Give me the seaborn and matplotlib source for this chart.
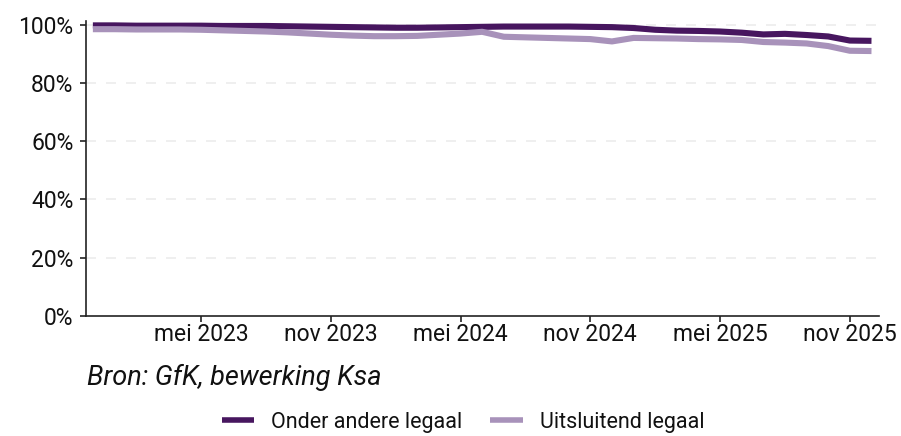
import numpy as np
import pandas as pd
import matplotlib
matplotlib.use('Agg')
import matplotlib.pyplot as plt
import seaborn as sns

maanden = ['dec 2022', 'jan 2023', 'feb 2023', 'mrt 2023', 'apr 2023', 'mei 2023',
           'jun 2023', 'jul 2023', 'aug 2023', 'sep 2023', 'okt 2023', 'nov 2023',
           'dec 2023', 'jan 2024', 'feb 2024', 'mrt 2024', 'apr 2024', 'mei 2024',
           'jun 2024', 'jul 2024', 'aug 2024', 'sep 2024', 'okt 2024', 'nov 2024',
           'dec 2024', 'jan 2025', 'feb 2025', 'mrt 2025', 'apr 2025', 'mei 2025',
           'jun 2025', 'jul 2025', 'aug 2025', 'sep 2025', 'okt 2025', 'nov 2025',
           'dec 2025']

onder_andere = [99.7, 99.7, 99.6, 99.6, 99.6, 99.6, 99.5, 99.5, 99.5, 99.4, 99.3, 99.2,
                99.1, 99.0, 98.9, 98.9, 99.0, 99.1, 99.2, 99.3, 99.3, 99.3, 99.3, 99.2,
                99.1, 98.8, 98.2, 97.9, 97.8, 97.6, 97.2, 96.6, 96.8, 96.4, 95.9, 94.5,
                94.4]

uitsluitend = [98.4, 98.4, 98.3, 98.3, 98.3, 98.2, 98.0, 97.8, 97.6, 97.3, 96.9, 96.5,
               96.2, 96.0, 96.0, 96.1, 96.5, 96.9, 97.5, 95.8, 95.6, 95.4, 95.2, 95.0,
               94.2, 95.4, 95.3, 95.2, 95.0, 94.9, 94.7, 94.0, 93.8, 93.5, 92.6, 91.0,
               90.9]

reeksen = ['Onder andere legaal', 'Uitsluitend legaal']
kleuren = ['#47165f', '#a892ba']
tick_maanden = ['mei 2023', 'nov 2023', 'mei 2024', 'nov 2024', 'mei 2025', 'nov 2025']

sns.set_style('white')
plt.rcParams['font.family'] = ['Roboto', 'DejaVu Sans']

df = pd.DataFrame({
    'maand': list(range(len(maanden))) * 2,
    'aandeel': np.array(onder_andere + uitsluitend) / 100,
    'reeks': [reeksen[0]] * len(maanden) + [reeksen[1]] * len(maanden),
})

fig = plt.figure(figsize=(9.01, 4.36), dpi=100)
ax = fig.add_axes([0.0954, 0.2752, 0.880, 0.6766])

sns.lineplot(data=df, x='maand', y='aandeel', hue='reeks', hue_order=reeksen,
             palette=kleuren, linewidth=4.4, legend=False, ax=ax, clip_on=False)
for ln in ax.lines:
    ln.set_solid_capstyle('butt')
    ln.set_solid_joinstyle('round')

ax.set_xlim(-0.32, len(maanden) - 1 + 0.34)
ax.set_ylim(0, 1.012)
ax.set_yticks([0, 0.2, 0.4, 0.6, 0.8, 1.0])
ax.set_yticklabels(['0%', '20%', '40%', '60%', '80%', '100%'], fontsize=16.5)
ax.set_xticks([maanden.index(m) for m in tick_maanden])
ax.set_xticklabels(tick_maanden, fontsize=16.5)
ax.set_xlabel('')
ax.set_ylabel('')

for v in [0.2, 0.4, 0.6, 0.8, 1.0]:
    ax.axhline(v, color='#ececec', lw=1.2, ls=(0, (6, 6)), zorder=0)

ax.spines['top'].set_visible(False)
ax.spines['right'].set_visible(False)
for s in ['left', 'bottom']:
    ax.spines[s].set_color('#222222')
    ax.spines[s].set_linewidth(1.2)
ax.tick_params(axis='both', which='major', length=4, width=1.2, color='#222222',
               bottom=True, left=True, labelcolor='#111111')
ax.tick_params(axis='x', pad=1)
ax.tick_params(axis='y', pad=5)

fig.text(0.0965, 0.135, 'Bron: GfK, bewerking Ksa', fontsize=19.5, style='italic',
         color='#111111', ha='left', va='center')

handles = [plt.Line2D([], [], color=c, lw=4, solid_capstyle='butt') for c in kleuren]
fig.legend(handles, reeksen, loc='center', bbox_to_anchor=(0.514, 0.032), ncol=2,
           frameon=False, fontsize=15.5, handlelength=1.5, columnspacing=1.3,
           handletextpad=0.8, labelcolor='#111111')

fig.savefig('out.png', dpi=100)
